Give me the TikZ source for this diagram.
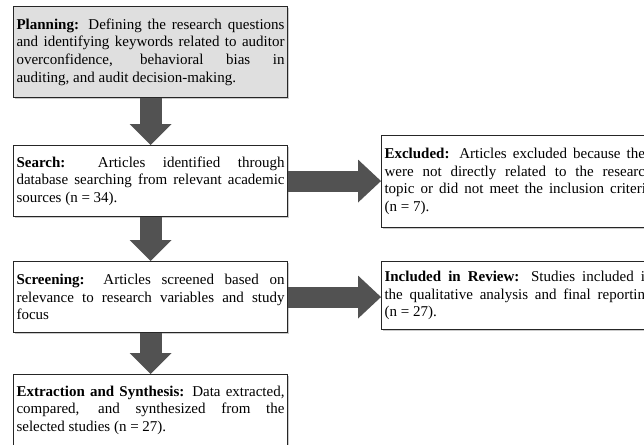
\documentclass[tikz,border=0pt]{standalone}
\usepackage{fontspec}
\setmainfont{Liberation Serif}
\usetikzlibrary{arrows.meta,shadows}
\hbadness=10000

\begin{document}
\begin{tikzpicture}[
  x=1pt,y=1pt,
  block/.style={draw=black!85,line width=1.1pt,fill=white,anchor=north west,
    text width=268pt,inner xsep=3pt,inner ysep=4pt,minimum height=71pt,
    align=justify,font=\fontsize{15}{17.6}\selectfont,
    drop shadow={shadow xshift=1pt,shadow yshift=-1pt,fill=black!35,opacity=0.6}},
  fatdown/.style={draw=black!68,line width=22pt,-{Triangle[width=42pt,length=21pt,line width=0pt]}},
  fatright/.style={draw=black!68,line width=21pt,-{Triangle[width=43pt,length=23pt,line width=0pt]}}
]
\useasboundingbox (0,0) rectangle (644,-444);
\clip (0,0) rectangle (644,-444);

\node[block,fill=gray!25,minimum height=91pt] (plan) at (13,-6)
  {\textbf{Planning:} Defining the research questions\linebreak and identifying keywords related to auditor\linebreak overconfidence, behavioral bias in\linebreak auditing, and audit decision-making.};
\node[block] (search) at (13,-145)
  {\textbf{Search:} Articles identified through\linebreak database searching from relevant academic\linebreak sources (n = 34).};
\node[block] (screen) at (13,-261)
  {\textbf{Screening:} Articles screened based on\linebreak relevance to research variables and study\linebreak focus};
\node[block] (extract) at (13,-374)
  {\textbf{Extraction and Synthesis:} Data extracted,\linebreak compared, and synthesized from the\linebreak selected studies (n = 27).};

\node[block,minimum height=92pt] (excl) at (381,-135)
  {\textbf{Excluded:} Articles excluded because they\linebreak were not directly related to the research\linebreak topic or did not meet the inclusion criteria\linebreak (n = 7).};
\node[block,minimum height=68pt] (incl) at (381,-261)
  {\textbf{Included in Review:} Studies included in\linebreak the qualitative analysis and final reporting\linebreak (n = 27).};

\draw[fatdown] (plan.south) -- (search.north);
\draw[fatdown] (search.south) -- (screen.north);
\draw[fatdown] (screen.south) -- (extract.north);
\draw[fatright] (search.east) -- (search.east -| excl.west);
\draw[fatright] (screen.east) -- (screen.east -| incl.west);
\end{tikzpicture}
\end{document}
